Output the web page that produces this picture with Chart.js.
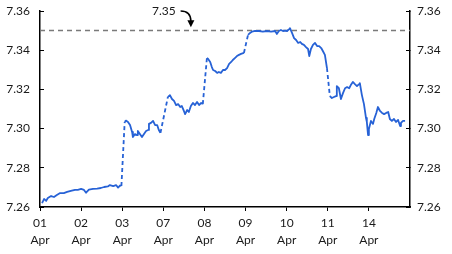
<!DOCTYPE html>
<html>
<head>
<meta charset="utf-8">
<script src="https://cdn.jsdelivr.net/npm/chart.js@4/dist/chart.umd.min.js"></script>
<style>
  html, body { margin: 0; padding: 0; background: #fff; }
  #wrap { width: 452px; height: 254px; }
</style>
</head>
<body>
<div id="wrap"><canvas id="grafico"></canvas></div>
<script>
// dias de negociação (eixo x = índice do dia, frações = hora do dia)
const dayLabels = ['01', '02', '03', '07', '08', '09', '10', '11', '14'];
const yTicks = [7.26, 7.28, 7.30, 7.32, 7.34, 7.36];
const refLevel = 7.35;

const times = [
  0.05, 0.10, 0.15, 0.19, 0.27, 0.34, 0.41, 0.49, 0.58, 0.66, 0.75, 0.85, 0.92,
  1.00, 1.07, 1.12, 1.19, 1.29, 1.39, 1.48, 1.56, 1.65, 1.70, 1.78, 1.85, 1.90, 1.95, 1.98,
  2.06, 2.09, 2.14, 2.19, 2.24, 2.26, 2.31, 2.36, 2.38, 2.43, 2.48, 2.53, 2.58, 2.63, 2.65, 2.70, 2.75, 2.80, 2.85, 2.89, 2.93,
  3.11, 3.16, 3.21, 3.26, 3.31, 3.36, 3.41, 3.45, 3.50, 3.53, 3.58, 3.62, 3.67, 3.72, 3.77, 3.82, 3.87, 3.92, 3.96,
  4.06, 4.09, 4.14, 4.18, 4.21, 4.26, 4.31, 4.35, 4.40, 4.45, 4.50, 4.55, 4.60, 4.65, 4.69, 4.74, 4.79, 4.84, 4.89, 4.96,
  5.06, 5.11, 5.16, 5.23, 5.33, 5.42, 5.52, 5.62, 5.72, 5.76, 5.81, 5.86, 5.91, 5.96,
  6.01, 6.06, 6.08, 6.13, 6.18, 6.23, 6.28, 6.33, 6.37, 6.42, 6.47, 6.52, 6.55, 6.59, 6.64, 6.69, 6.74, 6.79, 6.84, 6.88, 6.93, 6.98,
  7.05, 7.10, 7.15, 7.20, 7.22, 7.27, 7.32, 7.37, 7.42, 7.47, 7.52, 7.56, 7.61, 7.66, 7.71, 7.76, 7.78, 7.83, 7.88, 7.93, 7.95, 7.98,
  8.00, 8.05, 8.10, 8.13, 8.18, 8.22, 8.27, 8.32, 8.37, 8.42, 8.47, 8.51, 8.56, 8.61, 8.66, 8.71, 8.76, 8.78, 8.83, 8.88
];

const rates = [
  7.2620, 7.2641, 7.2631, 7.2646, 7.2656, 7.2651, 7.2661, 7.2671, 7.2671, 7.2677, 7.2682, 7.2687, 7.2687,
  7.2692, 7.2687, 7.2673, 7.2689, 7.2692, 7.2694, 7.2697, 7.2702, 7.2705, 7.2712, 7.2707, 7.2712, 7.2699, 7.2710, 7.2707,
  7.3034, 7.3041, 7.3034, 7.3018, 7.2983, 7.2957, 7.2972, 7.2967, 7.2988, 7.2973, 7.2957, 7.2973, 7.2988, 7.2993, 7.3024, 7.3029, 7.3039, 7.3018, 7.3018, 7.2993, 7.2978,
  7.3161, 7.3171, 7.3151, 7.3141, 7.3120, 7.3125, 7.3110, 7.3115, 7.3090, 7.3074, 7.3095, 7.3085, 7.3115, 7.3131, 7.3120, 7.3136, 7.3120, 7.3131, 7.3125,
  7.3360, 7.3355, 7.3340, 7.3314, 7.3299, 7.3294, 7.3284, 7.3289, 7.3284, 7.3299, 7.3299, 7.3309, 7.3330, 7.3340, 7.3350, 7.3360, 7.3370, 7.3376, 7.3381, 7.3386,
  7.3478, 7.3488, 7.3495, 7.3498, 7.3498, 7.3495, 7.3498, 7.3495, 7.3498, 7.3483, 7.3498, 7.3503, 7.3498, 7.3500,
  7.3498, 7.3508, 7.3513, 7.3488, 7.3462, 7.3452, 7.3437, 7.3442, 7.3432, 7.3427, 7.3416, 7.3406, 7.3370, 7.3406, 7.3427, 7.3437, 7.3421, 7.3421, 7.3411, 7.3396, 7.3376, 7.3309,
  7.3166, 7.3156, 7.3161, 7.3166, 7.3217, 7.3206, 7.3151, 7.3181, 7.3206, 7.3212, 7.3206, 7.3222, 7.3238, 7.3227, 7.3217, 7.3227, 7.3232, 7.3171, 7.3125, 7.3054, 7.3034, 7.2967,
  7.2998, 7.3039, 7.3024, 7.3049, 7.3080, 7.3110, 7.3090, 7.3080, 7.3074, 7.3080, 7.3085, 7.3049, 7.3039, 7.3049, 7.3034, 7.3044, 7.3013, 7.3029, 7.3039, 7.3039
];

// primeiros pontos depois de um salto (trecho tracejado)
const gapEnds = [2.06, 3.11, 4.06, 5.06, 7.05];

const azul = '#2762d6';
const fonte = { family: 'Lato', size: 12 };

const pontos = times.map((t, i) => ({ x: t, y: rates[i] }));

const anotacao = {
  id: 'anotacao',
  afterDatasetsDraw(chart) {
    const { ctx, scales: { x, y } } = chart;
    ctx.save();
    ctx.fillStyle = '#1a1a1a';
    ctx.font = '12px Lato';
    ctx.textAlign = 'right';
    ctx.textBaseline = 'middle';
    ctx.fillText('7.35', x.getPixelForValue(3.30), y.getPixelForValue(7.3600));

    const x0 = x.getPixelForValue(3.42), y0 = y.getPixelForValue(7.3600);
    const x1 = x.getPixelForValue(3.67), y1 = y.getPixelForValue(7.3522);
    ctx.strokeStyle = '#000';
    ctx.lineWidth = 1.5;
    ctx.beginPath();
    ctx.moveTo(x0, y0);
    ctx.quadraticCurveTo(x1, y0, x1, y1 - 5);
    ctx.stroke();
    ctx.fillStyle = '#000';
    ctx.beginPath();
    ctx.moveTo(x1 - 3.5, y1 - 6);
    ctx.lineTo(x1 + 3.5, y1 - 6);
    ctx.lineTo(x1, y1 + 1);
    ctx.closePath();
    ctx.fill();
    ctx.restore();
  }
};

const eixoY = (posicao, largura) => ({
  type: 'linear',
  position: posicao,
  min: 7.26,
  max: 7.36,
  afterBuildTicks: s => { s.ticks = yTicks.map(v => ({ value: v })); },
  afterFit: s => {
    s.width = largura;
    s.paddingTop = 0;
    s.paddingBottom = 0;
  },
  grid: { drawOnChartArea: false, drawTicks: true, tickLength: -4, color: '#000', lineWidth: 1 },
  border: { display: true, color: '#000', width: 1.5 },
  ticks: {
    color: '#1a1a1a',
    font: fonte,
    padding: posicao === 'left' ? 14 : 11,
    callback: v => v.toFixed(2)
  }
});

new Chart(document.getElementById('grafico'), {
  type: 'line',
  data: {
    datasets: [
      {
        data: pontos,
        borderColor: azul,
        borderWidth: 1.8,
        pointRadius: 0,
        tension: 0,
        borderJoinStyle: 'round',
        segment: {
          borderDash: c => gapEnds.includes(times[c.p1DataIndex]) ? [4, 3] : undefined
        }
      },
      {
        data: [{ x: 0, y: refLevel }, { x: dayLabels.length, y: refLevel }],
        borderColor: '#7a7a7a',
        borderWidth: 1.5,
        borderDash: [5, 4],
        pointRadius: 0
      }
    ]
  },
  options: {
    responsive: true,
    maintainAspectRatio: false,
    animation: false,
    layout: { padding: { top: 11, left: 0, right: 0, bottom: 0 } },
    plugins: {
      legend: { display: false },
      tooltip: { enabled: false }
    },
    scales: {
      x: {
        type: 'linear',
        min: 0,
        max: dayLabels.length,
        afterBuildTicks: s => { s.ticks = dayLabels.map((_, i) => ({ value: i })); },
        afterFit: s => { s.height = 47; },
        grid: { drawOnChartArea: false, drawTicks: true, tickLength: 4, color: '#000' },
        border: { display: true, color: '#000', width: 1.5 },
        ticks: {
          color: '#1a1a1a',
          font: { family: 'Lato', size: 12, lineHeight: 1.45 },
          padding: 3,
          maxRotation: 0,
          autoSkip: false,
          callback: v => [dayLabels[v], 'Apr']
        }
      },
      y: eixoY('left', 40),
      y2: eixoY('right', 42)
    }
  },
  plugins: [anotacao]
});
</script>
</body>
</html>
